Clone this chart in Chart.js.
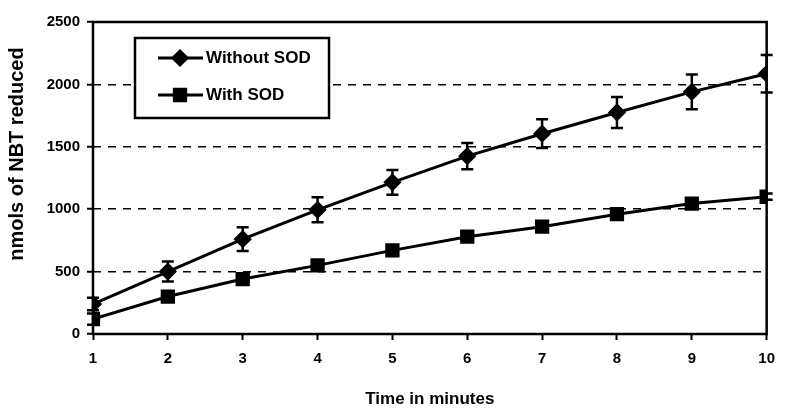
<!DOCTYPE html>
<html>
<head>
<meta charset="utf-8">
<script src="https://cdn.jsdelivr.net/npm/chart.js@4.4.0/dist/chart.umd.min.js"></script>
<style>
html, body { margin: 0; padding: 0; background: #fff; }
#contenedor { width: 785px; height: 413px; }
</style>
</head>
<body>
<div id="contenedor"><canvas id="grafico"></canvas></div>
<script>
// datos
const minutos = [1, 2, 3, 4, 5, 6, 7, 8, 9, 10];
const sinSOD = [240, 500, 760, 995, 1215, 1425, 1605, 1775, 1940, 2085];
const errSinSOD = [50, 80, 95, 100, 100, 105, 115, 125, 140, 150];
const conSOD = [120, 300, 440, 550, 670, 780, 860, 960, 1045, 1100];
const errConSOD = [45, 25, 25, 25, 25, 25, 25, 25, 25, 25];
const etiquetas = ['Without SOD', 'With SOD'];
const tituloY = 'nmols of NBT reduced';

const fuente = "'Liberation Sans', Arial, sans-serif";

// barras de error
const barrasError = {
    id: 'barrasError',
    afterDatasetsDraw(chart) {
        const ctx = chart.ctx;
        const x = chart.scales.x;
        const y = chart.scales.y;
        const errores = [errSinSOD, errConSOD];
        ctx.save();
        ctx.strokeStyle = '#000';
        chart.data.datasets.forEach((ds, i) => {
            ds.data.forEach((p, j) => {
                const px = x.getPixelForValue(p.x);
                const arriba = y.getPixelForValue(p.y + errores[i][j]);
                const abajo = y.getPixelForValue(p.y - errores[i][j]);
                ctx.lineWidth = 2.5;
                ctx.beginPath();
                ctx.moveTo(px, arriba);
                ctx.lineTo(px, abajo);
                ctx.moveTo(px - 6, arriba);
                ctx.lineTo(px + 6, arriba);
                ctx.moveTo(px - 6, abajo);
                ctx.lineTo(px + 6, abajo);
                ctx.stroke();
            });
        });
        ctx.restore();
    }
};

// marco, leyenda y titulo del eje Y
const marcoLeyenda = {
    id: 'marcoLeyenda',
    afterDraw(chart) {
        const ctx = chart.ctx;
        const a = chart.chartArea;
        ctx.save();
        ctx.strokeStyle = '#000';
        ctx.lineWidth = 2.5;
        ctx.strokeRect(a.left, a.top, a.right - a.left, a.bottom - a.top);

        // caja de la leyenda
        ctx.fillStyle = '#fff';
        ctx.fillRect(135, 38, 194, 80);
        ctx.lineWidth = 2.5;
        ctx.strokeRect(135, 38, 194, 80);

        const filas = [58, 95];
        chart.data.datasets.forEach((ds, i) => {
            const yy = filas[i];
            ctx.lineWidth = 3;
            ctx.beginPath();
            ctx.moveTo(158, yy);
            ctx.lineTo(203, yy);
            ctx.stroke();
            ctx.fillStyle = '#000';
            Chart.helpers.drawPoint(ctx, {
                pointStyle: ds.pointStyle,
                radius: ds.pointRadius,
                borderWidth: 1
            }, 180, yy);
            ctx.font = 'bold 17px ' + fuente;
            ctx.textBaseline = 'middle';
            ctx.textAlign = 'left';
            ctx.fillText(etiquetas[i], 206, yy);
        });

        // titulo Y (algo mas arriba que el centro, como en el original)
        ctx.translate(17, 154);
        ctx.rotate(-Math.PI / 2);
        ctx.fillStyle = '#000';
        ctx.font = 'bold 20px ' + fuente;
        ctx.textAlign = 'center';
        ctx.textBaseline = 'middle';
        ctx.fillText(tituloY, 0, 0);
        ctx.restore();
    }
};

const ctx = document.getElementById('grafico').getContext('2d');
new Chart(ctx, {
    type: 'line',
    data: {
        datasets: [
            {
                label: etiquetas[0],
                data: minutos.map((m, i) => ({ x: m, y: sinSOD[i] })),
                borderColor: '#000',
                backgroundColor: '#000',
                borderWidth: 3,
                pointStyle: 'rectRot',
                pointRadius: 7,
                pointBackgroundColor: '#000',
                pointBorderColor: '#000',
                tension: 0
            },
            {
                label: etiquetas[1],
                data: minutos.map((m, i) => ({ x: m, y: conSOD[i] })),
                borderColor: '#000',
                backgroundColor: '#000',
                borderWidth: 3,
                pointStyle: 'rect',
                pointRadius: 8,
                pointBackgroundColor: '#000',
                pointBorderColor: '#000',
                tension: 0
            }
        ]
    },
    options: {
        responsive: true,
        maintainAspectRatio: false,
        animation: false,
        layout: { padding: { top: 22, right: 9, left: 0, bottom: 0 } },
        plugins: {
            legend: { display: false },
            tooltip: { enabled: false }
        },
        scales: {
            x: {
                type: 'linear',
                min: 1,
                max: 10,
                afterFit: (s) => { s.height = 79; },
                ticks: {
                    stepSize: 1,
                    color: '#000',
                    padding: 10,
                    font: { family: fuente, size: 15, weight: 'bold' }
                },
                grid: {
                    drawOnChartArea: false,
                    drawTicks: true,
                    tickLength: 6,
                    tickColor: '#000',
                    tickWidth: 2
                },
                border: { display: false },
                title: {
                    display: true,
                    text: 'Time in minutes',
                    color: '#000',
                    padding: { top: 0, bottom: 3 },
                    font: { family: fuente, size: 17, weight: 'bold' }
                }
            },
            y: {
                min: 0,
                max: 2500,
                afterFit: (s) => { s.width = 93; },
                ticks: {
                    stepSize: 500,
                    color: '#000',
                    padding: 7,
                    callback: (v) => String(v),
                    font: { family: fuente, size: 15, weight: 'bold' }
                },
                grid: {
                    color: '#000',
                    lineWidth: 1.5,
                    tickLength: 6,
                    tickColor: '#000',
                    tickWidth: 2,
                    tickBorderDash: []
                },
                border: { display: false, dash: [8, 7] },
                title: { display: false }
            }
        }
    },
    plugins: [barrasError, marcoLeyenda]
});
</script>
</body>
</html>
